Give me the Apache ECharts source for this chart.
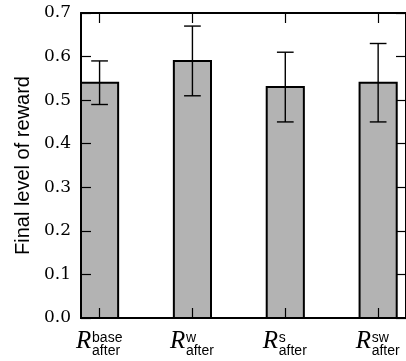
<!DOCTYPE html>
<html>
<head>
<meta charset="utf-8">
<script src="https://cdn.jsdelivr.net/npm/echarts@6/dist/echarts.min.js"></script>
<style>html,body{margin:0;padding:0;background:#fff}#c{width:406px;height:361px}</style>
</head>
<body>
<div id="c"></div>
<script>
const categories = ['base', 'w', 's', 'sw'];
const subText = 'after';
const positions = [0, 1, 2, 3];
const means = [0.54, 0.59, 0.53, 0.54];
const errLow = [0.49, 0.51, 0.45, 0.45];
const errHigh = [0.59, 0.67, 0.61, 0.63];
const yTicks = [0.0, 0.1, 0.2, 0.3, 0.4, 0.5, 0.6, 0.7];
const yLabel = 'Final level of reward';

const data = positions.map((p, i) => [p, means[i], errLow[i], errHigh[i]]);
const chart = echarts.init(document.getElementById('c'), null, {renderer: 'canvas'});

const spine = {show: true, onZero: false, lineStyle: {color: '#000', width: 2}};
const tickIn = {show: true, inside: true, length: 10, lineStyle: {color: '#000', width: 1.2}};

// rich styles: per label, the script column is as wide as its wider script
const scriptFont = '14px "Liberation Sans"';
const mctx = document.createElement('canvas').getContext('2d');
mctx.font = scriptFont;
const rich = {
  sp: {width: 16, lineHeight: 13, align: 'left'},
  R: {fontFamily: 'Liberation Serif', fontStyle: 'italic', fontSize: 25, width: 16, align: 'left',
      lineHeight: 13, height: 33, verticalAlign: 'bottom', color: '#000'}
};
categories.forEach((c, i) => {
  const w = Math.ceil(Math.max(mctx.measureText(c).width, mctx.measureText(subText).width));
  const st = {fontFamily: 'Liberation Sans', fontSize: 14, width: w, align: 'left', lineHeight: 13, color: '#000'};
  rich['sup' + i] = st;
  rich['sub' + i] = Object.assign({}, st);
});

chart.setOption({
  animation: false,
  grid: {left: 81, top: 13, right: -2, bottom: 43, containLabel: false},
  xAxis: [{
    type: 'value', position: 'bottom', min: -0.2, max: 3.3, z: 10,
    axisLine: spine, splitLine: {show: false},
    axisTick: Object.assign({}, tickIn, {customValues: positions}),
    axisLabel: {
      customValues: positions, margin: 14, color: '#000',
      formatter: v => {
        const i = Math.round(v);
        return '{sp|}{sup' + i + '|' + categories[i] + '}\n{R|R}{sub' + i + '|' + subText + '}';
      },
      rich: rich
    }
  }, {
    type: 'value', position: 'top', min: -0.2, max: 3.3, z: 10,
    axisLine: spine, splitLine: {show: false},
    axisTick: Object.assign({}, tickIn, {customValues: positions}),
    axisLabel: {show: false}
  }],
  yAxis: [{
    type: 'value', position: 'left', min: 0, max: 0.7, interval: 0.1, z: 10,
    axisLine: spine, splitLine: {show: false}, axisTick: tickIn,
    axisLabel: {
      customValues: yTicks, margin: 10, color: '#000',
      fontFamily: 'DejaVu Serif', fontSize: 17,
      formatter: v => v.toFixed(1)
    },
    name: yLabel, nameLocation: 'middle', nameGap: 48,
    nameTextStyle: {fontFamily: 'Liberation Sans', fontSize: 20, color: '#000'}
  }, {
    type: 'value', position: 'right', min: 0, max: 0.7, interval: 0.1, z: 10,
    axisLine: spine, splitLine: {show: false}, axisTick: tickIn,
    axisLabel: {show: false}
  }],
  series: [{
    type: 'custom',
    xAxisIndex: 0, yAxisIndex: 0,
    data: data,
    z: 2,
    renderItem: function (params, api) {
      const x = api.value(0), y = api.value(1), lo = api.value(2), hi = api.value(3);
      const a = api.coord([x - 0.2, y]);
      const b = api.coord([x + 0.2, 0]);
      const pl = api.coord([x, lo]);
      const ph = api.coord([x, hi]);
      const cap = api.size([0.09, 0])[0];
      const ls = {stroke: '#000', lineWidth: 1.4};
      return {
        type: 'group',
        children: [
          {type: 'rect', shape: {x: a[0], y: a[1], width: b[0] - a[0], height: b[1] - a[1]},
           style: {fill: '#b3b3b3', stroke: '#000', lineWidth: 2}},
          {type: 'line', shape: {x1: pl[0], y1: pl[1], x2: ph[0], y2: ph[1]}, style: ls},
          {type: 'line', shape: {x1: pl[0] - cap, y1: pl[1], x2: pl[0] + cap, y2: pl[1]}, style: ls},
          {type: 'line', shape: {x1: ph[0] - cap, y1: ph[1], x2: ph[0] + cap, y2: ph[1]}, style: ls}
        ]
      };
    }
  }]
});
</script>
</body>
</html>
